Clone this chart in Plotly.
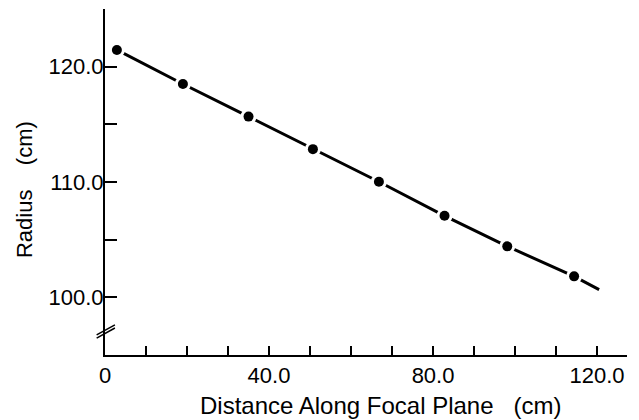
import plotly.graph_objects as go

# Data
distance_cm = [2.9, 19.0, 35.0, 50.7, 66.8, 82.8, 98.1, 114.4]
radius_cm = [121.45, 118.5, 115.67, 112.85, 110.02, 107.07, 104.42, 101.82]
# fitted curve extends a little past the last point
fit_x = distance_cm + [120.5]
fit_y = radius_cm + [100.67]

x_tickvals = [0, 10, 20, 30, 40, 50, 60, 70, 80, 90, 100, 110, 120]
x_ticktext = ["0", "", "", "", "40.0", "", "", "", "80.0", "", "", "", "120.0"]
y_tickvals = [100, 105, 110, 115, 120]
y_ticktext = ["100.0", "", "110.0", "", "120.0"]

FONT = "Liberation Sans, Arial, sans-serif"

fig = go.Figure()
fig.add_trace(go.Scatter(x=fit_x, y=fit_y, mode="lines",
                         line=dict(color="black", width=3), showlegend=False,
                         hoverinfo="skip"))
# white halo around points to create gaps in the line
fig.add_trace(go.Scatter(x=distance_cm, y=radius_cm, mode="markers",
                         marker=dict(color="white", size=16, line=dict(width=0)),
                         showlegend=False, hoverinfo="skip"))
fig.add_trace(go.Scatter(x=distance_cm, y=radius_cm, mode="markers",
                         marker=dict(color="black", size=10, line=dict(width=0)),
                         showlegend=False))

# axis break marks on the y axis (paper coords so they are not clipped)
for dy in (0.0, 0.009):
    fig.add_shape(type="line", xref="paper", yref="paper",
                  x0=-0.016, y0=0.049 + dy, x1=0.019, y1=0.078 + dy,
                  line=dict(color="black", width=1.5))

fig.update_layout(
    width=639, height=420,
    margin=dict(l=105, r=12, t=9, b=65),
    paper_bgcolor="white", plot_bgcolor="white",
    font=dict(family=FONT, size=22, color="black"),
    xaxis=dict(range=[0, 127.3], tickmode="array", tickvals=x_tickvals,
               ticktext=x_ticktext, ticks="inside", ticklen=9, tickwidth=1.5,
               tickcolor="black", showline=True, linewidth=2, linecolor="black",
               showgrid=False, zeroline=False,
               tickfont=dict(family=FONT, size=22, color="black")),
    yaxis=dict(range=[95, 125], tickmode="array", tickvals=y_tickvals,
               ticktext=y_ticktext, ticks="inside", ticklen=12, tickwidth=1.5,
               tickcolor="black", showline=True, linewidth=2, linecolor="black",
               showgrid=False, zeroline=False, ticklabelstandoff=-5,
               tickfont=dict(family=FONT, size=22, color="black")),
    annotations=[
        dict(text="Distance Along Focal Plane\u00a0\u00a0\u00a0(cm)", xref="paper", yref="paper",
             x=0.529, y=-0.147, xanchor="center", yanchor="middle", showarrow=False,
             font=dict(family=FONT, size=24, color="black")),
        dict(text="Radius\u00a0\u00a0\u00a0\u00a0(cm)", xref="paper", yref="paper",
             x=-0.153, y=0.477, xanchor="center", yanchor="middle", showarrow=False,
             textangle=-90, font=dict(family=FONT, size=22, color="black")),
    ],
)

fig.write_html("out.html", config={"displayModeBar": False},
               post_script="document.body.style.margin='0';document.body.style.overflow='hidden';")
